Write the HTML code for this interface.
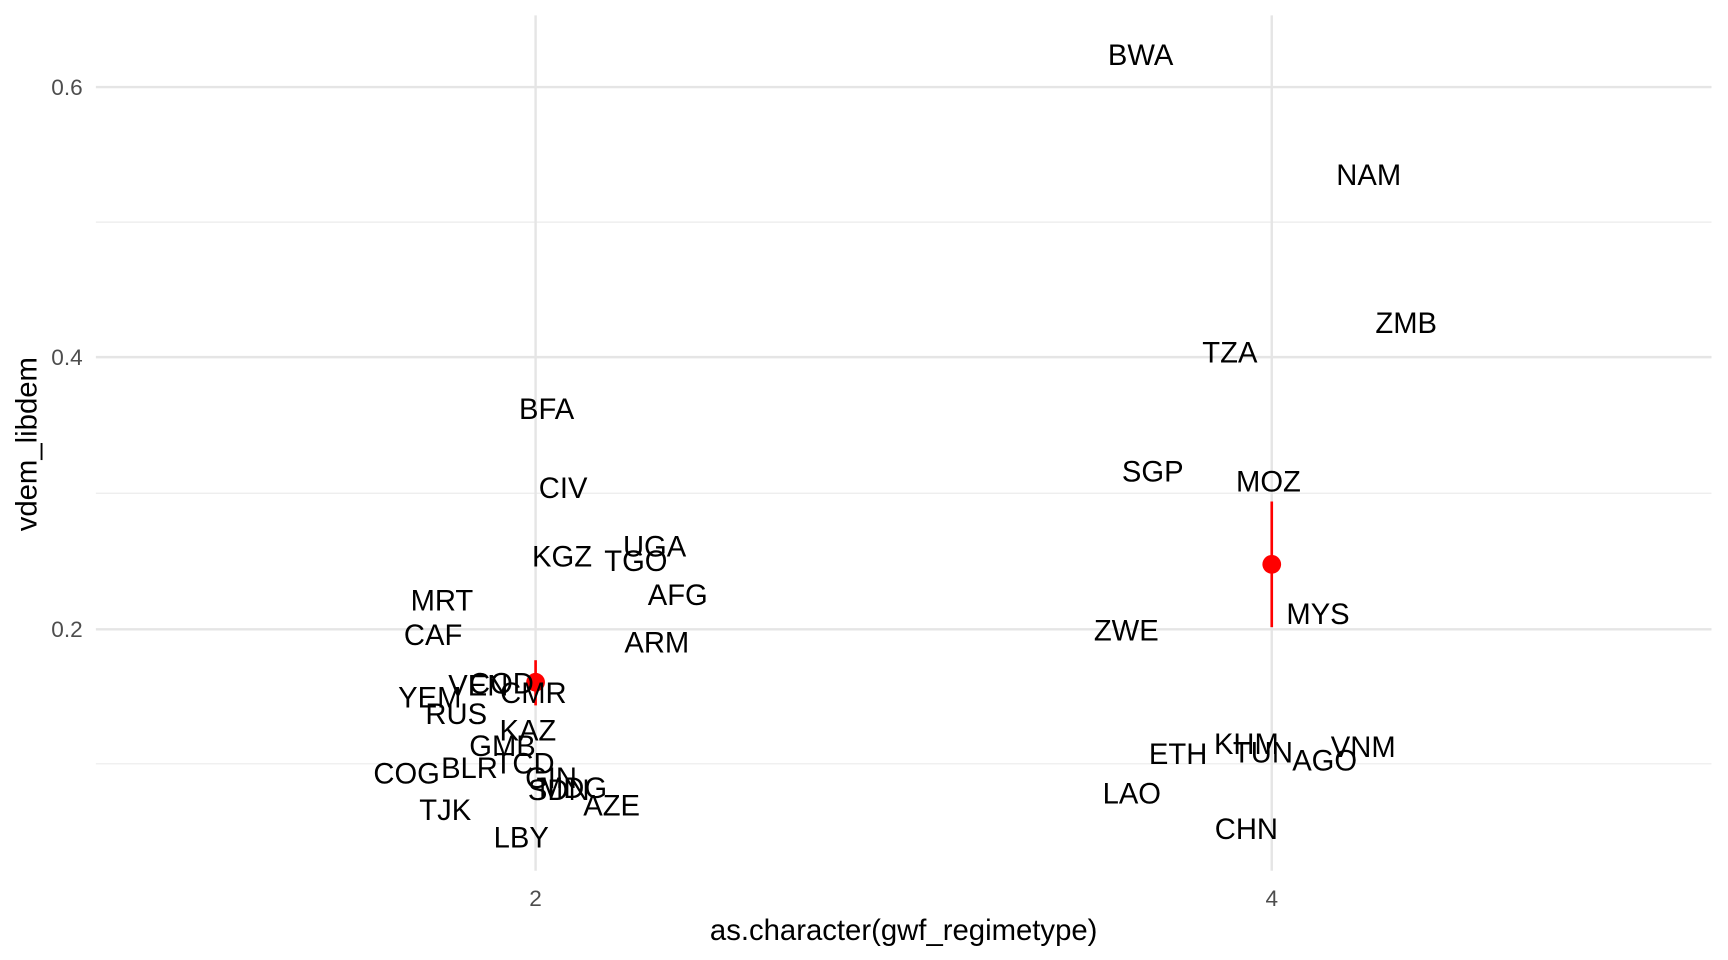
<!DOCTYPE html>
<html><head><meta charset="utf-8"><style>html,body{margin:0;padding:0;background:#fff}svg{display:block}</style></head>
<body>
<svg width="1728" height="960" viewBox="0 0 1568 871" preserveAspectRatio="none" xmlns="http://www.w3.org/2000/svg" font-family="Liberation Sans, sans-serif">
<rect width="1568" height="871" fill="#fff"/>
<g stroke="#ebebeb" stroke-width="1.1">
<line x1="87" x2="1553" y1="201.5" y2="201.5"/><line x1="87" x2="1553" y1="447.5" y2="447.5"/><line x1="87" x2="1553" y1="693" y2="693"/>
</g>
<g stroke="#e5e5e5" stroke-width="2.2">
<line x1="87" x2="1553" y1="79" y2="79"/><line x1="87" x2="1553" y1="324" y2="324"/><line x1="87" x2="1553" y1="571" y2="571"/>
<line x1="486" x2="486" y1="14" y2="790"/><line x1="1154" x2="1154" y1="14" y2="790"/>
</g>
<g font-size="20.5" fill="#4d4d4d" text-anchor="end">
<text x="75" y="86">0.6</text><text x="75" y="331">0.4</text><text x="75" y="578">0.2</text>
</g>
<g font-size="20.5" fill="#4d4d4d" text-anchor="middle">
<text x="486" y="822">2</text><text x="1154" y="822">4</text>
</g>
<text x="820" y="853" font-size="26.6" text-anchor="middle">as.character(gwf_regimetype)</text>
<text transform="translate(33,403) rotate(-90)" font-size="26.6" text-anchor="middle">vdem_libdem</text>
<g stroke="#ff0000" stroke-width="2.4"><line x1="486" x2="486" y1="599" y2="640"/><line x1="1154" x2="1154" y1="455" y2="569"/></g>
<g fill="#ff0000"><circle cx="486" cy="619" r="8.5"/><circle cx="1154" cy="512" r="8.5"/></g>
<g font-size="26.5" text-anchor="middle" fill="#000">
<text x="1035" y="59">BWA</text><text x="1242" y="168">NAM</text><text x="1276" y="302">ZMB</text><text x="1116" y="329">TZA</text>
<text x="496" y="380">BFA</text><text x="511" y="452">CIV</text><text x="1046" y="437">SGP</text><text x="1151" y="446">MOZ</text>
<text x="510" y="514">KGZ</text><text x="594" y="505">UGA</text><text x="577" y="518">TGO</text><text x="615" y="549">AFG</text>
<text x="401" y="554">MRT</text><text x="1196" y="566">MYS</text><text x="1022" y="581">ZWE</text><text x="393" y="585">CAF</text>
<text x="596" y="592">ARM</text><text x="455" y="629">COD</text><text x="434" y="631">VEN</text><text x="484" y="638">CMR</text>
<text x="390" y="642">YEM</text><text x="414" y="657">RUS</text><text x="479" y="672">KAZ</text><text x="456" y="686">GMB</text>
<text x="1131" y="684">KHM</text><text x="1237" y="687">VNM</text><text x="1146" y="692">TUN</text><text x="1069" y="693">ETH</text>
<text x="1202" y="699">AGO</text><text x="476" y="702">TCD</text><text x="426" y="706">BLR</text><text x="369" y="711">COG</text>
<text x="500" y="715">GIN</text><text x="520" y="724">MDG</text><text x="507" y="726">SDN</text><text x="404" y="744">TJK</text>
<text x="555" y="740">AZE</text><text x="1027" y="729">LAO</text><text x="473" y="769">LBY</text><text x="1131" y="761">CHN</text>
</g>
</svg>
</body></html>
